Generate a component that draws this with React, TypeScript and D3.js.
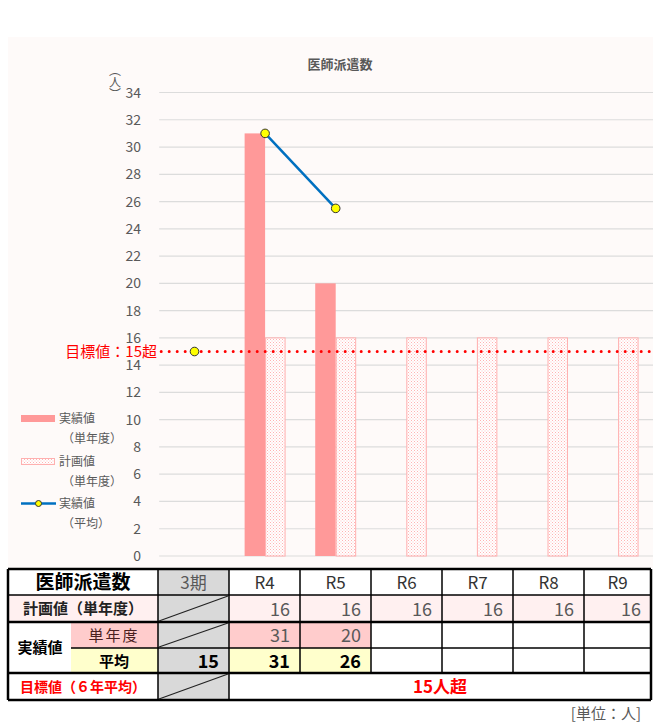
import React from "react";
import * as d3 from "d3";

const categories = ["3期", "R4", "R5", "R6", "R7", "R8", "R9"];
const actualValues: (number | null)[] = [null, 31, 20, null, null, null, null];
const planValues: (number | null)[] = [null, 16, 16, 16, 16, 16, 16];
const avgValues: (number | null)[] = [15, 31, 25.5, null, null, null, null];
const avgLineFrom = 1; // line connects from R4 onward
const targetValue = 15;
const yTicks = [0, 2, 4, 6, 8, 10, 12, 14, 16, 18, 20, 22, 24, 26, 28, 30, 32, 34];

const tablePlan = ["", "16", "16", "16", "16", "16", "16"];
const tableActual = ["", "31", "20", "", "", "", ""];
const tableAvg = ["15", "31", "26", "", "", "", ""];
const targetText = "15人超";

const FONT = "'Noto Sans CJK JP', 'Noto Sans', sans-serif";
const GREY = "#595959";

export default function App() {
  const W = 653, H = 723;
  const x = d3.scaleBand<string>().domain(categories).range([159.2, 653.4]).paddingInner(0).paddingOuter(0);
  const y = d3.scaleLinear().domain([0, 34]).range([556, 92.5]);
  const bw = x.bandwidth() * 0.29;
  const cx = (c: string) => (x(c) as number) + x.bandwidth() / 2;

  const linePts = categories
    .map((c, i) => ({ c, v: avgValues[i], i }))
    .filter((d) => d.v !== null && d.i >= avgLineFrom);
  const lineGen = d3.line<{ c: string; v: number | null }>().x((d) => cx(d.c)).y((d) => y(d.v as number));

  // table geometry
  const colX = [8, 158, 229, 300, 371, 442, 513, 584, 651];
  const rowY = [569, 595, 622, 648, 673, 700];
  const subX = 71;

  const cellRect = (x0: number, y0: number, x1: number, y1: number, fill: string, key: string) => (
    <rect key={key} x={x0} y={y0} width={x1 - x0} height={y1 - y0} fill={fill} />
  );

  const plotLeft = 159.2, plotRight = 653;

  return (
    <svg width={W} height={H} style={{ display: "block", position: "absolute", left: 0, top: 0 }} fontFamily={FONT}>
      <defs>
        <pattern id="dots" width="3" height="3" patternUnits="userSpaceOnUse">
          <rect width="3" height="3" fill="#ffffff" />
          <rect x="0" y="0" width="1" height="1" fill="#ffb3b3" />
          <rect x="1.5" y="1.5" width="1" height="1" fill="#ffc4c4" />
        </pattern>
      </defs>
      <rect x={0} y={0} width={W} height={H} fill="#ffffff" />
      <rect x={8} y={37} width={645} height={531} fill="#fefaf9" />

      {/* title */}
      <text x={340} y={69} textAnchor="middle" fontSize={13} fontWeight="bold" fill={GREY}>医師派遣数</text>
      {/* unit label */}
      <text x={115} y={64} fontSize={12} fill={GREY} style={{ writingMode: "vertical-rl" as any }}>（人）</text>

      {/* grid */}
      {yTicks.map((t) => (
        <g key={t}>
          <line x1={plotLeft} x2={plotRight} y1={y(t)} y2={y(t)} stroke="#dcdcdc" strokeWidth={1.2} />
          <text x={141} y={y(t) + 5} textAnchor="end" fontSize={14} fill={GREY}>{t}</text>
        </g>
      ))}

      {/* bars */}
      {categories.map((c, i) => {
        const a = actualValues[i];
        const p = planValues[i];
        const c0 = cx(c);
        return (
          <g key={c}>
            {a !== null && (
              <rect x={c0 - bw} y={y(a)} width={bw} height={y(0) - y(a)} fill="#ff9999" />
            )}
            {p !== null && (
              <rect x={c0 + 0.5} y={y(p)} width={bw - 1} height={y(0) - y(p)} fill="url(#dots)" stroke="#ffb0b0" strokeWidth={1} />
            )}
          </g>
        );
      })}

      {/* target line */}
      <line x1={plotLeft + 2} x2={plotRight} y1={y(targetValue)} y2={y(targetValue)} stroke="#ff0000" strokeWidth={3} strokeDasharray="0 8" strokeLinecap="round" />
      <text x={157} y={y(targetValue) + 5.5} textAnchor="end" fontSize={15} fill="#ff0000">目標値：15超</text>

      {/* avg line */}
      <path d={lineGen(linePts) || ""} fill="none" stroke="#0070c0" strokeWidth={2.5} />
      {categories.map((c, i) =>
        avgValues[i] !== null ? (
          <circle key={c} cx={cx(c)} cy={y(avgValues[i] as number)} r={4.3} fill="#ffff00" stroke="#333333" strokeWidth={1} />
        ) : null
      )}

      {/* legend */}
      <g fontSize={12} fill={GREY}>
        <rect x={21} y={415} width={34} height={7} fill="#ff9999" />
        <text x={59} y={422.5}>実績値</text>
        <text x={62} y={442.5}>（単年度）</text>
        <rect x={21.5} y={458.5} width={33} height={6} fill="url(#dots)" stroke="#ffb0b0" strokeWidth={1} />
        <text x={59} y={466}>計画値</text>
        <text x={62} y={486}>（単年度）</text>
        <line x1={21} x2={56} y1={503.5} y2={503.5} stroke="#0070c0" strokeWidth={2.5} />
        <circle cx={38.5} cy={503.5} r={3} fill="#ffff00" stroke="#333" strokeWidth={1} />
        <text x={59} y={507.5}>実績値</text>
        <text x={62} y={527.5}>（平均）</text>
      </g>

      {/* table backgrounds */}
      <g>
        {cellRect(8, rowY[0], 651, rowY[5], "#ffffff", "bg")}
        {cellRect(colX[1], rowY[0], colX[2], rowY[5], "#d9d9d9", "g3")}
        {cellRect(8, rowY[1], colX[1], rowY[2], "#fff0f0", "planL")}
        {categories.slice(1).map((c, i) => cellRect(colX[i + 2], rowY[1], colX[i + 3], rowY[2], "#fff0f0", "pl" + c))}
        {cellRect(subX, rowY[2], colX[1], rowY[3], "#ffcccc", "actL")}
        {tableActual.map((v, i) => (i > 0 && v !== "" ? cellRect(colX[i + 1], rowY[2], colX[i + 2], rowY[3], "#ffcccc", "ac" + i) : null))}
        {cellRect(subX, rowY[3], colX[1], rowY[4], "#ffffcc", "avgL")}
        {tableAvg.map((v, i) => (i > 0 && v !== "" ? cellRect(colX[i + 1], rowY[3], colX[i + 2], rowY[4], "#ffffcc", "av" + i) : null))}
      </g>

      {/* table grid lines */}
      <g stroke="#000" fill="none">
        <line x1={8} x2={651} y1={rowY[0]} y2={rowY[0]} strokeWidth={2.5} />
        <line x1={8} x2={651} y1={rowY[1]} y2={rowY[1]} strokeWidth={1.5} />
        <line x1={8} x2={651} y1={rowY[2]} y2={rowY[2]} strokeWidth={2.5} />
        <line x1={subX} x2={651} y1={rowY[3]} y2={rowY[3]} strokeWidth={1.5} />
        <line x1={8} x2={651} y1={rowY[4]} y2={rowY[4]} strokeWidth={2.5} />
        <line x1={8} x2={651} y1={rowY[5]} y2={rowY[5]} strokeWidth={2.5} />
        <line x1={8} x2={8} y1={rowY[0]} y2={rowY[5]} strokeWidth={2.5} />
        <line x1={651} x2={651} y1={rowY[0]} y2={rowY[5]} strokeWidth={2.5} />
        <line x1={colX[1]} x2={colX[1]} y1={rowY[0]} y2={rowY[5]} strokeWidth={1.5} />
        <line x1={colX[2]} x2={colX[2]} y1={rowY[0]} y2={rowY[5]} strokeWidth={1.5} />
        {colX.slice(3, 8).map((cxv, i) => (
          <line key={i} x1={cxv} x2={cxv} y1={rowY[0]} y2={rowY[4]} strokeWidth={1.5} />
        ))}
        {[1, 2, 4].map((r) => (
          <line key={"d" + r} x1={colX[1] + 1} y1={rowY[r + 1] - 1} x2={colX[2] - 1} y2={rowY[r] + 1} strokeWidth={1.2} stroke="#222" />
        ))}
      </g>

      {/* table text */}
      <g>
        <text x={83} y={589} textAnchor="middle" fontSize={19} fontWeight="bold" fill="#000">医師派遣数</text>
        {categories.map((c, i) => (
          <text key={c} x={(colX[i + 1] + colX[i + 2]) / 2} y={589} textAnchor="middle" fontSize={17} fill={i === 0 ? GREY : "#333"}>{c}</text>
        ))}
        <text x={83} y={614} textAnchor="middle" fontSize={15} fontWeight="bold" fill="#222">計画値（単年度）</text>
        {tablePlan.map((v, i) => (v ? (
          <text key={"p" + i} x={colX[i + 2] - 10} y={616} textAnchor="end" fontSize={18} fill={GREY}>{v}</text>
        ) : null))}
        <text x={40} y={653} textAnchor="middle" fontSize={15} fontWeight="bold" fill="#000">実績値</text>
        <text x={114} y={641} textAnchor="middle" fontSize={15} fill="#4a2020" letterSpacing={2}>単年度</text>
        <text x={114} y={667} textAnchor="middle" fontSize={15} fontWeight="bold" fill="#000">平均</text>
        {tableActual.map((v, i) => (v ? (
          <text key={"a" + i} x={colX[i + 2] - 10} y={642} textAnchor="end" fontSize={18} fill={GREY}>{v}</text>
        ) : null))}
        {tableAvg.map((v, i) => (v ? (
          <text key={"v" + i} x={colX[i + 2] - 10} y={668} textAnchor="end" fontSize={18} fontWeight="bold" fill="#000">{v}</text>
        ) : null))}
        <text x={83} y={692} textAnchor="middle" fontSize={14} fontWeight="bold" fill="#ff0000">目標値（６年平均）</text>
        <text x={(colX[2] + colX[8]) / 2} y={693} textAnchor="middle" fontSize={17} fontWeight="bold" fill="#ff0000">{targetText}</text>
        <text x={641} y={719} textAnchor="end" fontSize={15} fill={GREY}>[単位：人]</text>
      </g>
    </svg>
  );
}
